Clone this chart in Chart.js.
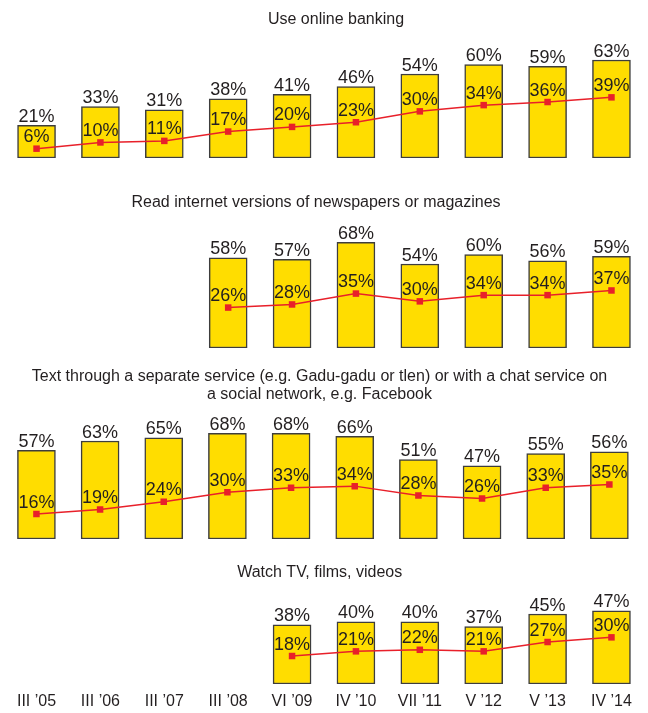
<!DOCTYPE html>
<html>
<head>
<meta charset="utf-8">
<script src="https://cdn.jsdelivr.net/npm/chart.js@4.4.1/dist/chart.umd.min.js"></script>
<style>
  body { margin: 0; background: #fff; }
  #wrap { position: relative; width: 648px; height: 713px; }
  canvas { position: absolute; left: 0; }
</style>
</head>
<body>
<div id="wrap">
  <canvas id="c1" width="648" height="175" style="top:0px"></canvas>
  <canvas id="c2" width="648" height="185" style="top:175px"></canvas>
  <canvas id="c3" width="648" height="195" style="top:360px"></canvas>
  <canvas id="c4" width="648" height="158" style="top:555px"></canvas>
</div>
<script>
const waves = ['III ’05', 'III ’06', 'III ’07', 'III ’08', 'VI ’09', 'IV ’10', 'VII ’11', 'V ’12', 'V ’13', 'IV ’14'];

// bars = whole group, line = second series
const bankingBars = [21, 33, 31, 38, 41, 46, 54, 60, 59, 63];
const bankingLine = [6, 10, 11, 17, 20, 23, 30, 34, 36, 39];

const newsBars = [null, null, null, 58, 57, 68, 54, 60, 56, 59];
const newsLine = [null, null, null, 26, 28, 35, 30, 34, 34, 37];

const chatBars = [57, 63, 65, 68, 68, 66, 51, 47, 55, 56];
const chatLine = [16, 19, 24, 30, 33, 34, 28, 26, 33, 35];

const tvBars = [null, null, null, null, 38, 40, 40, 37, 45, 47];
const tvLine = [null, null, null, null, 18, 21, 22, 21, 27, 30];

const PX_PER_PCT = 1.555;
const TEXT = '#231f20';
const FONT = 'Arial, "Liberation Sans", sans-serif';

const panels = [
    { id: 'c1', bars: bankingBars, line: bankingLine, title: ['Use online banking'], titleX: 336, titleY: [24],
      top: 30, bottom: 158, left: 4.5, right: 2.8, axis: false },
    { id: 'c2', bars: newsBars, line: newsLine, title: ['Read internet versions of newspapers or magazines'], titleX: 316, titleY: [32],
      top: 40, bottom: 173, left: 4.5, right: 2.8, axis: false },
    { id: 'c3', bars: chatBars, line: chatLine,
      title: ['Text through a separate service (e.g. Gadu-gadu or tlen) or with a chat service on', 'a social network, e.g. Facebook'],
      titleX: 319.5, titleY: [21, 39], top: 48, bottom: 179, left: 0.5, right: 6.8, axis: false },
    { id: 'c4', bars: tvBars, line: tvLine, title: ['Watch TV, films, videos'], titleX: 319.7, titleY: [22],
      top: 30, bottom: 129, left: 4.5, right: 2.8, axis: true }
];

const valueLabels = {
    id: 'valueLabels',
    afterDatasetsDraw(chart, args, opts) {
        const ctx = chart.ctx;
        ctx.save();
        ctx.fillStyle = TEXT;
        ctx.textAlign = 'center';
        ctx.textBaseline = 'alphabetic';
        ctx.font = '18px ' + FONT;
        const barMeta = chart.getDatasetMeta(1);
        const lineMeta = chart.getDatasetMeta(0);
        barMeta.data.forEach((bar, i) => {
            const v = chart.data.datasets[1].data[i];
            if (v == null) return;
            ctx.fillText(v + '%', bar.x, bar.y - 3.5);
        });
        lineMeta.data.forEach((pt, i) => {
            const v = chart.data.datasets[0].data[i];
            if (v == null) return;
            ctx.fillText(v + '%', pt.x, pt.y - 6.5);
        });
        // panel heading
        ctx.font = '16px ' + FONT;
        opts.lines.forEach((t, k) => ctx.fillText(t, opts.x, opts.y[k]));
        ctx.restore();
    }
};

panels.forEach(p => {
    const canvas = document.getElementById(p.id);
    const H = canvas.height;
    const axisH = p.axis ? H - p.bottom : 0;
    const yMax = (p.bottom - p.top) / PX_PER_PCT;

    new Chart(canvas.getContext('2d'), {
        data: {
            labels: waves,
            datasets: [
                {
                    type: 'line',
                    data: p.line,
                    order: 0,
                    borderColor: '#e8202a',
                    borderWidth: 1.5,
                    pointStyle: 'rect',
                    pointRadius: 4.6,
                    pointBackgroundColor: '#e8202a',
                    pointBorderWidth: 0,
                    tension: 0
                },
                {
                    type: 'bar',
                    data: p.bars,
                    order: 1,
                    backgroundColor: '#ffdd00',
                    borderColor: '#3d3d3d',
                    borderWidth: 1.5,
                    borderSkipped: false,
                    barThickness: 38
                }
            ]
        },
        options: {
            responsive: false,
            animation: false,
            layout: {
                padding: { top: p.top, bottom: H - p.bottom - axisH, left: p.left, right: p.right }
            },
            scales: {
                x: {
                    display: p.axis,
                    offset: true,
                    grid: { display: false, drawTicks: false },
                    border: { display: false },
                    ticks: { color: TEXT, font: { size: 16, family: FONT }, padding: 8, maxRotation: 0, autoSkip: false },
                    afterFit: (scale) => { if (p.axis) scale.height = axisH; }
                },
                y: { display: false, min: 0, max: yMax }
            },
            plugins: {
                legend: { display: false },
                tooltip: { enabled: false },
                valueLabels: { lines: p.title, x: p.titleX, y: p.titleY }
            }
        },
        plugins: [valueLabels]
    });
});
</script>
</body>
</html>
